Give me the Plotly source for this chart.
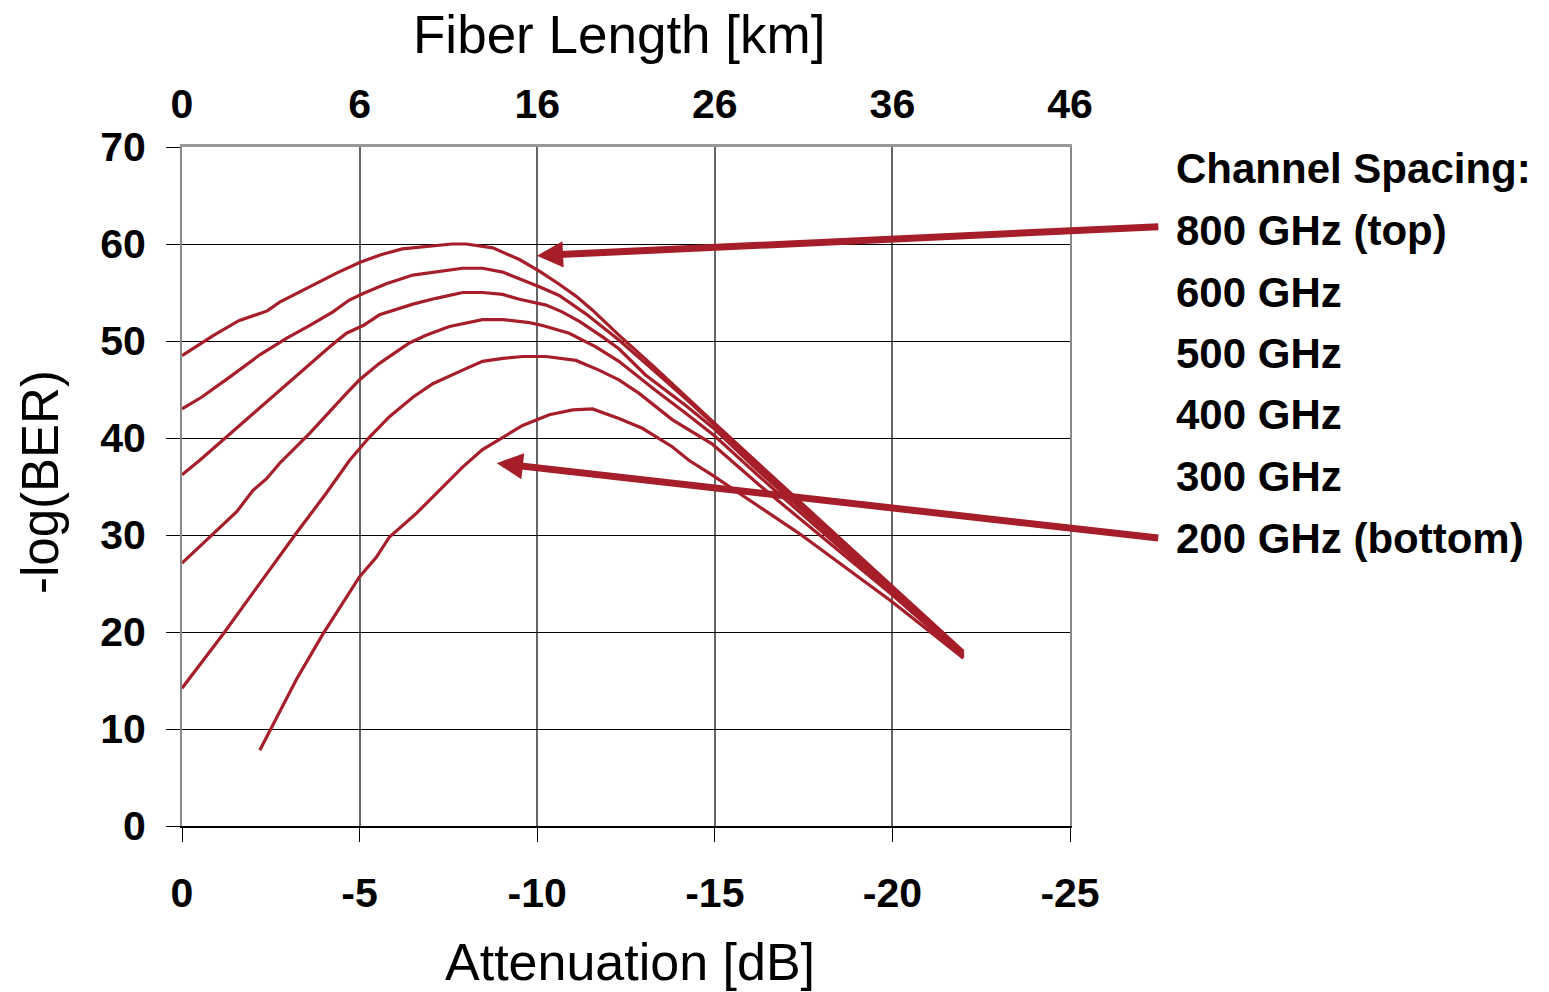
import plotly.graph_objects as go

# ---- data (attenuation in dB, -log(BER)) ----
x_800 = [0, -0.9, -1.6, -2.4, -2.75, -3.6, -4.35, -5.0, -5.6, -6.2, -7.0, -7.6, -8.0, -8.75,
         -9.5, -10.06, -10.6, -11.1, -11.55, -12.3, -13.3, -14.2, -15.0, -16.9, -20.0, -22.0]
y_800 = [48.5, 50.6, 52.1, 53.1, 54.0, 55.6, 57.0, 58.1, 58.9, 59.5, 59.8, 60.0, 60.0, 59.6,
         58.4, 57.2, 55.9, 54.6, 53.2, 50.6, 47.3, 44.2, 41.5, 35.1, 24.7, 18.0]

x_600 = [0, -0.55, -1.35, -2.2, -2.95, -3.6, -4.25, -4.7, -5.1, -5.75, -6.5, -7.06, -7.9, -8.46,
         -9.03, -10.06, -10.62, -11.37, -12.3, -13.3, -14.2, -15.0, -16.2, -20.0, -22.0]
y_600 = [43.0, 44.2, 46.3, 48.6, 50.3, 51.6, 53.0, 54.2, 54.9, 55.9, 56.8, 57.1, 57.5, 57.5,
         57.1, 55.6, 54.7, 52.8, 50.1, 46.9, 44.0, 41.3, 37.1, 24.4, 17.8]

x_500 = [0, -0.5, -1.25, -2.0, -2.75, -3.6, -4.16, -4.63, -5.1, -5.56, -6.5, -7.15, -7.9, -8.46,
         -9.03, -9.5, -10.25, -10.7, -11.2, -11.85, -12.3, -13.05, -14.2, -15.0, -16.2, -20.0, -22.0]
y_500 = [36.2, 37.7, 40.1, 42.5, 44.9, 47.7, 49.4, 50.8, 51.6, 52.7, 53.8, 54.4, 55.0, 55.0,
         54.8, 54.3, 53.7, 53.0, 52.0, 50.4, 49.2, 46.5, 43.3, 40.9, 36.7, 24.2, 17.6]

x_400 = [0, -0.79, -1.54, -2.0, -2.38, -2.75, -3.6, -4.63, -5.0, -5.56, -6.4, -6.87, -7.53, -8.46,
         -9.03, -9.78, -10.15, -10.9, -11.65, -12.3, -13.3, -14.2, -15.0, -16.2, -20.0, -22.0]
y_400 = [27.1, 29.8, 32.4, 34.6, 35.8, 37.4, 40.5, 44.6, 46.0, 47.7, 49.8, 50.6, 51.5, 52.2,
         52.2, 51.9, 51.6, 50.8, 49.4, 47.9, 45.0, 42.5, 40.2, 36.2, 24.0, 17.5]

x_300 = [0, -1.16, -1.91, -2.75, -3.22, -4.06, -4.72, -5.28, -5.84, -6.5, -7.06, -7.9, -8.46,
         -9.03, -9.59, -10.25, -11.09, -11.74, -12.3, -12.87, -13.8, -14.92, -16.3, -20.0, -22.0]
y_300 = [14.2, 19.8, 23.6, 27.9, 30.2, 34.3, 37.7, 40.1, 42.2, 44.2, 45.6, 47.0, 47.9,
         48.2, 48.4, 48.4, 48.0, 47.0, 46.0, 44.6, 41.9, 39.4, 35.0, 23.8, 17.4]

x_200 = [-2.19, -3.22, -3.97, -4.63, -5.0, -5.47, -5.84, -6.59, -7.15, -7.9, -8.46, -9.03, -9.59,
         -10.34, -11.0, -11.56, -12.3, -12.96, -13.8, -14.27, -14.92, -15.77, -17.36, -20.0, -22.0]
y_200 = [7.8, 15.1, 19.8, 23.6, 25.7, 27.7, 29.8, 32.2, 34.3, 37.0, 38.8, 40.1, 41.3,
         42.4, 42.9, 43.0, 42.0, 41.0, 39.1, 37.7, 36.2, 34.1, 30.2, 23.1, 17.3]

series = [("800 GHz", x_800, y_800), ("600 GHz", x_600, y_600), ("500 GHz", x_500, y_500),
          ("400 GHz", x_400, y_400), ("300 GHz", x_300, y_300), ("200 GHz", x_200, y_200)]

atten_ticks = [0, -5, -10, -15, -20, -25]
atten_labels = ["0", "-5", "-10", "-15", "-20", "-25"]
fiber_labels = ["0", "6", "16", "26", "36", "46"]
y_ticks = [0, 10, 20, 30, 40, 50, 60, 70]

legend_lines = ["Channel Spacing:", "800 GHz (top)", "600 GHz", "500 GHz",
                "400 GHz", "300 GHz", "200 GHz (bottom)"]

RED = "#A61E29"
FONT = "Liberation Sans, Arial, sans-serif"

# plot area in pixels
L, R, T, B = 182, 1070, 147, 826
W, H = 1549, 992
def px_x(p): return (p - L) / (R - L)
def px_y(p): return (B - p) / (B - T)

fig = go.Figure()
for i, (name, xs, ys) in enumerate(series):
    fig.add_trace(go.Scatter(x=xs, y=ys, mode="lines", name=name,
                             xaxis="x2" if i == len(series) - 1 else "x",
                             line=dict(color=RED, width=3.2), showlegend=False))

tick_font = dict(size=41, weight="bold", family=FONT, color="black")
fig.update_layout(
    width=W, height=H,
    margin=dict(l=L, r=W - R, t=T, b=H - B, pad=0),
    plot_bgcolor="white", paper_bgcolor="white",
    font=dict(family=FONT, color="black"),
    xaxis=dict(range=[0, -25], tickvals=atten_ticks, ticktext=atten_labels, ticks="outside",
               ticklen=14, tickcolor="black", tickwidth=1, showline=True, linecolor="black",
               linewidth=1.5, showgrid=True, gridcolor="#666666", gridwidth=1.5, zeroline=False,
               tickfont=tick_font, ticklabelstandoff=16),
    xaxis2=dict(range=[0, -25], tickvals=atten_ticks, ticktext=fiber_labels,
                overlaying="x", side="top", anchor="y", ticks="", showline=True,
                linecolor="#999999", linewidth=2.5, showgrid=False, zeroline=False,
                tickfont=tick_font, ticklabelstandoff=10),
    yaxis=dict(range=[0, 70], tickvals=y_ticks, ticks="outside", ticklen=14,
               tickcolor="black", tickwidth=1, showline=True, linecolor="#888888", linewidth=2,
               mirror=True, showgrid=True, gridcolor="black", gridwidth=1.2, zeroline=False,
               tickfont=tick_font, ticklabelstandoff=12),
)

annotations = [
    dict(text="Fiber Length [km]", xref="paper", yref="paper", x=px_x(619), y=px_y(35),
         showarrow=False, font=dict(size=53, family=FONT), xanchor="center", yanchor="middle"),
    dict(text="Attenuation [dB]", xref="paper", yref="paper", x=px_x(630), y=px_y(962),
         showarrow=False, font=dict(size=52, family=FONT), xanchor="center", yanchor="middle"),
    dict(text="-log(BER)", xref="paper", yref="paper", x=px_x(40), y=px_y(482), textangle=-90,
         showarrow=False, font=dict(size=51, family=FONT), xanchor="center", yanchor="middle"),
]
legend_y = [168, 230, 292, 353, 414, 476, 538]
for txt, yy in zip(legend_lines, legend_y):
    annotations.append(dict(text=txt, xref="paper", yref="paper", x=px_x(1174), y=px_y(yy),
                            showarrow=False, xanchor="left", yanchor="middle",
                            font=dict(size=42, weight="bold", family=FONT)))
# arrows
annotations.append(dict(text="", x=-9.99, y=58.8, xref="x", yref="y", showarrow=True,
                        ax=1160 - 537, ay=227 - 256, arrowhead=2, arrowwidth=7, arrowsize=0.75,
                        arrowcolor=RED, standoff=0))
annotations.append(dict(text="", x=-8.86, y=37.4, xref="x", yref="y", showarrow=True,
                        ax=1160 - 497, ay=538 - 463, arrowhead=2, arrowwidth=7, arrowsize=0.75,
                        arrowcolor=RED, standoff=0))
fig.update_layout(annotations=annotations)

fig.write_html("out.html", config={"displayModeBar": False},
               post_script="document.body.style.margin='0';document.body.style.padding='0';")
